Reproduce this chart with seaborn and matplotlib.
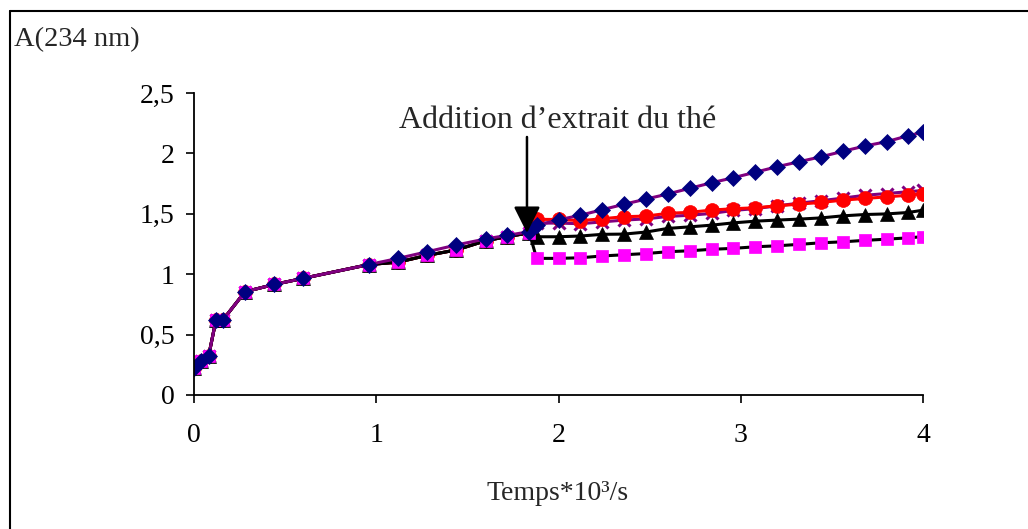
import matplotlib
matplotlib.use("Agg")
import matplotlib.pyplot as plt
import seaborn as sns
import pandas as pd
from matplotlib.lines import Line2D

# ---------------- data ----------------
x_common = [0, 0.04, 0.08, 0.12, 0.16, 0.28, 0.44, 0.60, 0.96, 1.12, 1.28, 1.44, 1.60, 1.72, 1.84]
y_common_diamond = [0.225, 0.285, 0.32, 0.618, 0.624, 0.855, 0.915, 0.966, 1.08, 1.131,
                    1.186, 1.242, 1.292, 1.322, 1.352]
y_common_other = [0.225, 0.285, 0.32, 0.618, 0.624, 0.855, 0.915, 0.966, 1.08, 1.10,
                  1.156, 1.201, 1.277, 1.312, 1.342]

x_after = [1.88, 2.00, 2.12, 2.24, 2.36, 2.48, 2.60, 2.72, 2.84, 2.96,
           3.08, 3.20, 3.32, 3.44, 3.56, 3.68, 3.80, 3.92, 4.00]
y_diamond = [1.404, 1.45, 1.488, 1.534, 1.579, 1.622, 1.664, 1.711, 1.757, 1.799,
             1.844, 1.89, 1.931, 1.972, 2.017, 2.061, 2.097, 2.147, 2.175]
y_circle = [1.454, 1.453, 1.443, 1.459, 1.476, 1.481, 1.504, 1.512, 1.531, 1.542,
            1.55, 1.566, 1.58, 1.594, 1.613, 1.627, 1.64, 1.654, 1.668]
y_cross = [1.423, 1.423, 1.418, 1.433, 1.448, 1.458, 1.478, 1.488, 1.503, 1.528,
           1.543, 1.566, 1.588, 1.608, 1.63, 1.653, 1.668, 1.683, 1.693]
y_triangle = [1.31, 1.31, 1.316, 1.33, 1.332, 1.349, 1.379, 1.392, 1.406, 1.425,
              1.439, 1.448, 1.456, 1.466, 1.483, 1.494, 1.499, 1.511, 1.53]
y_square = [1.131, 1.131, 1.136, 1.151, 1.161, 1.171, 1.186, 1.194, 1.206, 1.214,
            1.227, 1.235, 1.247, 1.26, 1.268, 1.28, 1.29, 1.301, 1.311]

y_ticks = [0, 0.5, 1, 1.5, 2, 2.5]
y_tick_labels = ["0", "0,5", "1", "1,5", "2", "2,5"]
x_ticks = [0, 1, 2, 3, 4]
x_tick_labels = ["0", "1", "2", "3", "4"]

ylabel = "A(234 nm)"
xlabel = "Temps*10³/s"
annotation = "Addition d’extrait du thé"

# ---------------- style ----------------
sns.set_style("ticks")
plt.rcParams["font.family"] = ["Liberation Serif", "DejaVu Serif"]

fig = plt.figure(figsize=(10.28, 5.29), dpi=100)
ax = fig.add_axes([194 / 1028, 1 - 395 / 529, (923 - 194) / 1028, (395 - 93) / 529])

series = [
    # (y_common, y_after, line color, marker, marker face, marker edge, ms, mew)
    (y_common_other, y_cross, "#800080", "x", "#800080", "#800080", 9, 2.2),
    (y_common_other, y_circle, "#FF0000", "o", "#FF0000", "#FF0000", 10, 0.5),
    (y_common_other, y_triangle, "black", "^", "black", "black", 9.5, 0.5),
    (y_common_other, y_square, "black", "s", "#FF00FF", "#FF00FF", 9, 0.5),
    (y_common_diamond, y_diamond, "#800080", "D", "#000080", "#000080", 8.3, 0.5),
]

for yc, ya, lc, mk, mfc, mec, ms, mew in series:
    df = pd.DataFrame({"x": x_common + x_after, "y": yc + ya})
    sns.lineplot(data=df, x="x", y="y", ax=ax, color=lc, linewidth=2.2,
                 marker=mk, markersize=ms, markerfacecolor=mfc,
                 markeredgecolor=mec, markeredgewidth=mew,
                 estimator=None, sort=False)

ax.set_xlim(0, 4)
ax.set_ylim(0, 2.5)
ax.set_xticks(x_ticks)
ax.set_xticklabels(x_tick_labels)
ax.set_yticks(y_ticks)
ax.set_yticklabels(y_tick_labels)
ax.set_xlabel("")
ax.set_ylabel("")
ax.tick_params(axis="both", direction="out", length=6, width=1.2, labelsize=20,
               colors="black")
ax.tick_params(axis="x", pad=14)
ax.tick_params(axis="y", pad=8)
for s in ["top", "right"]:
    ax.spines[s].set_visible(False)
for s in ["left", "bottom"]:
    ax.spines[s].set_color("black")
    ax.spines[s].set_linewidth(1.3)
ax.patch.set_alpha(0)

# annotation
ax.annotate("", xy=(1.827, 1.341), xytext=(1.827, 2.136),
            arrowprops=dict(arrowstyle="-|>,head_length=0.9,head_width=0.45",
                            color="black", lw=1.8, mutation_scale=18,
                            shrinkA=0, shrinkB=0))
ax.text(1.995, 2.21, annotation, fontsize=23, ha="center", va="baseline")

# labels as figure texts
fig.text(14 / 1028, 1 - 40 / 529, ylabel, fontsize=20.5, ha="left", va="center")
fig.text(558 / 1028, 1 - 494 / 529, xlabel, fontsize=20, ha="center", va="center")

# outer frame (left and top)
fig.add_artist(Line2D([10 / 1028, 10 / 1028], [0, 1 - 11 / 529], color="black", lw=1.5,
                      transform=fig.transFigure))
fig.add_artist(Line2D([10 / 1028, 1], [1 - 11 / 529, 1 - 11 / 529], color="black", lw=1.5,
                      transform=fig.transFigure))

fig.savefig("out.png", dpi=100)
